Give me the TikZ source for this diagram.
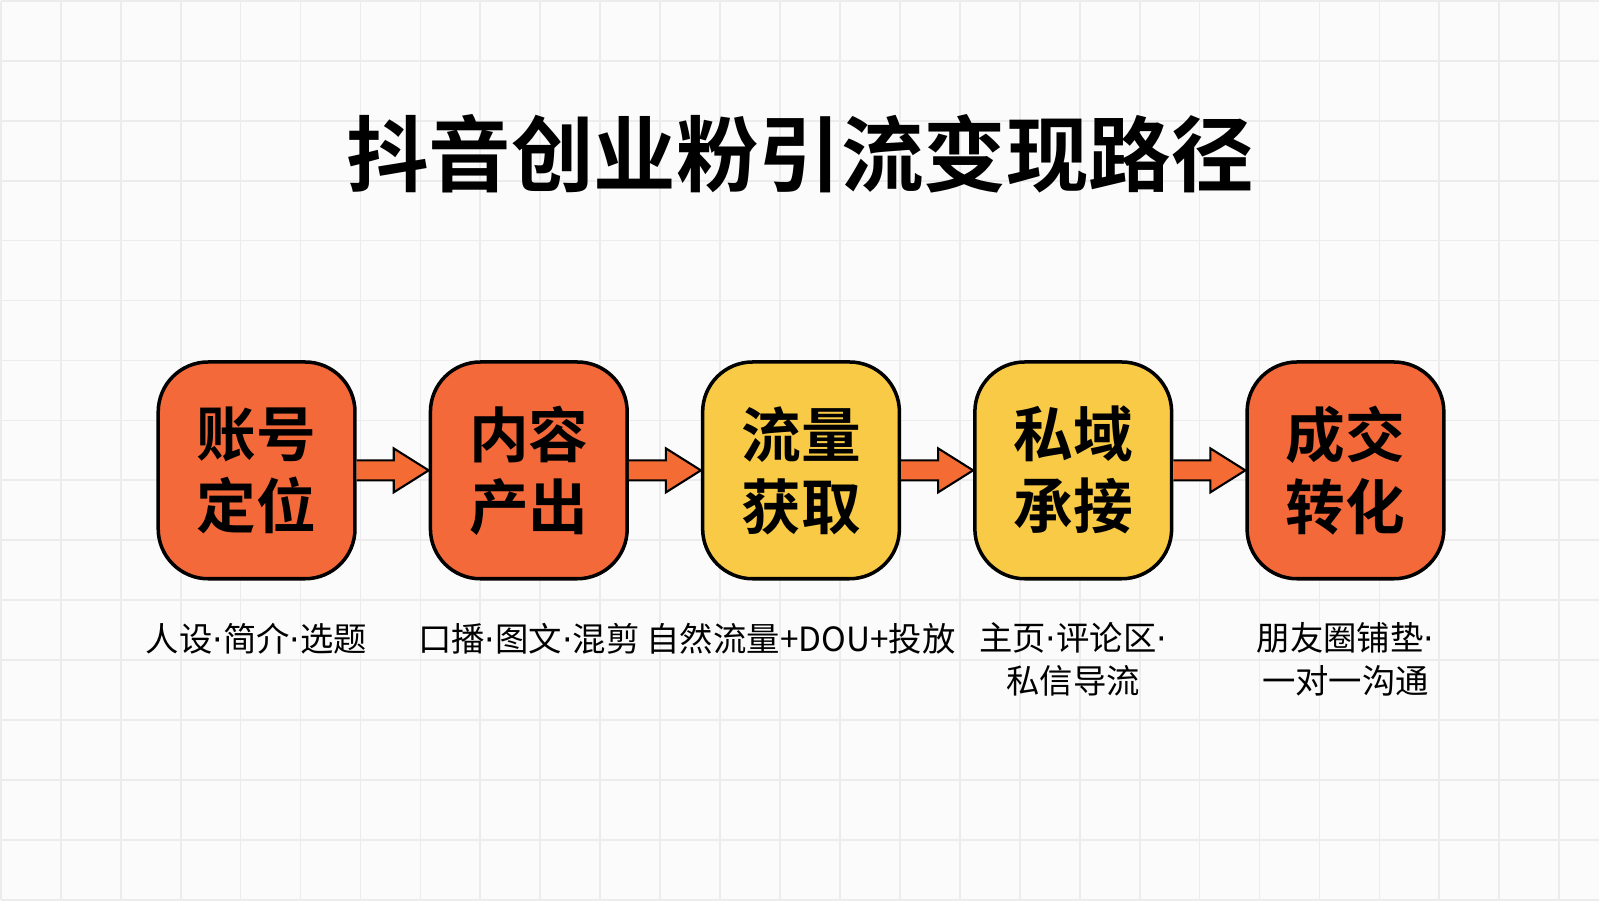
\documentclass[tikz,border=0pt]{standalone}
\usepackage{fontspec}
\setmainfont{Noto Sans CJK SC}[BoldFont=* Bold]
\newfontfamily\dotfont{DejaVu Sans}
\usetikzlibrary{positioning,calc}
\definecolor{hotorange}{HTML}{F4693A}
\definecolor{warmyellow}{HTML}{F8CA45}
\definecolor{gridgray}{HTML}{ECECEC}
\newcommand{\sep}{{\dotfont ·}}
\tikzset{
  step box/.style={draw=black, line width=1pt, rounded corners=0.5cm, minimum width=1.97cm, minimum height=2.17cm, align=center, font=\bfseries\fontsize{17}{20.5}\selectfont, inner sep=0pt},
  note/.style={align=center, font=\fontsize{9.5}{12}\selectfont, anchor=north},
}
% fat arrow between two nodes
\newcommand{\fatarrow}[2]{%
  \path let \p1=(#1.east), \p2=(#2.west) in
    [draw=black, line width=0.6pt, fill=hotorange!90!orange]
    (\x1,\y1+0.1cm) -- (\x2-0.35cm,\y1+0.1cm) -- (\x2-0.35cm,\y1+0.22cm) -- (\x2,\y1)
    -- (\x2-0.35cm,\y1-0.22cm) -- (\x2-0.35cm,\y1-0.1cm) -- (\x1,\y1-0.1cm);%
}
\begin{document}
\begin{tikzpicture}
    \fill[white!97!gray] (0,0) rectangle (16,9);
    \draw[gridgray, line width=0.5pt] (0,0) grid[step=0.6] (16,9);
    \useasboundingbox (0,0) rectangle (16,9);

    % Title
    \node[font=\bfseries\fontsize{23.5}{28}\selectfont] (title) at (8.0,7.47) {抖音创业粉引流变现路径};

    % Steps
    \node[step box, fill=hotorange] (account) at (2.56,4.3) {账号\\定位};
    \node[step box, fill=hotorange, right=0.72cm of account] (content) {内容\\产出};
    \node[step box, fill=warmyellow, right=0.72cm of content] (traffic) {流量\\获取};
    \node[step box, fill=warmyellow, right=0.72cm of traffic] (private) {私域\\承接};
    \node[step box, fill=hotorange, right=0.72cm of private] (deal) {成交\\转化};

    % Arrows
    \fatarrow{account}{content}
    \fatarrow{content}{traffic}
    \fatarrow{traffic}{private}
    \fatarrow{private}{deal}

    % Notes
    \node[note, below=0.3cm of account] (accountnote) {人设\sep 简介\sep 选题};
    \node[note, below=0.3cm of content] (contentnote) {口播\sep 图文\sep 混剪};
    \node[note, below=0.3cm of traffic] (trafficnote) {自然流量+DOU+投放};
    \node[note, below=0.3cm of private] (privatenote) {主页\sep 评论区\sep\\私信导流};
    \node[note, below=0.3cm of deal] (dealnote) {朋友圈铺垫\sep\\一对一沟通};
\end{tikzpicture}
\end{document}
